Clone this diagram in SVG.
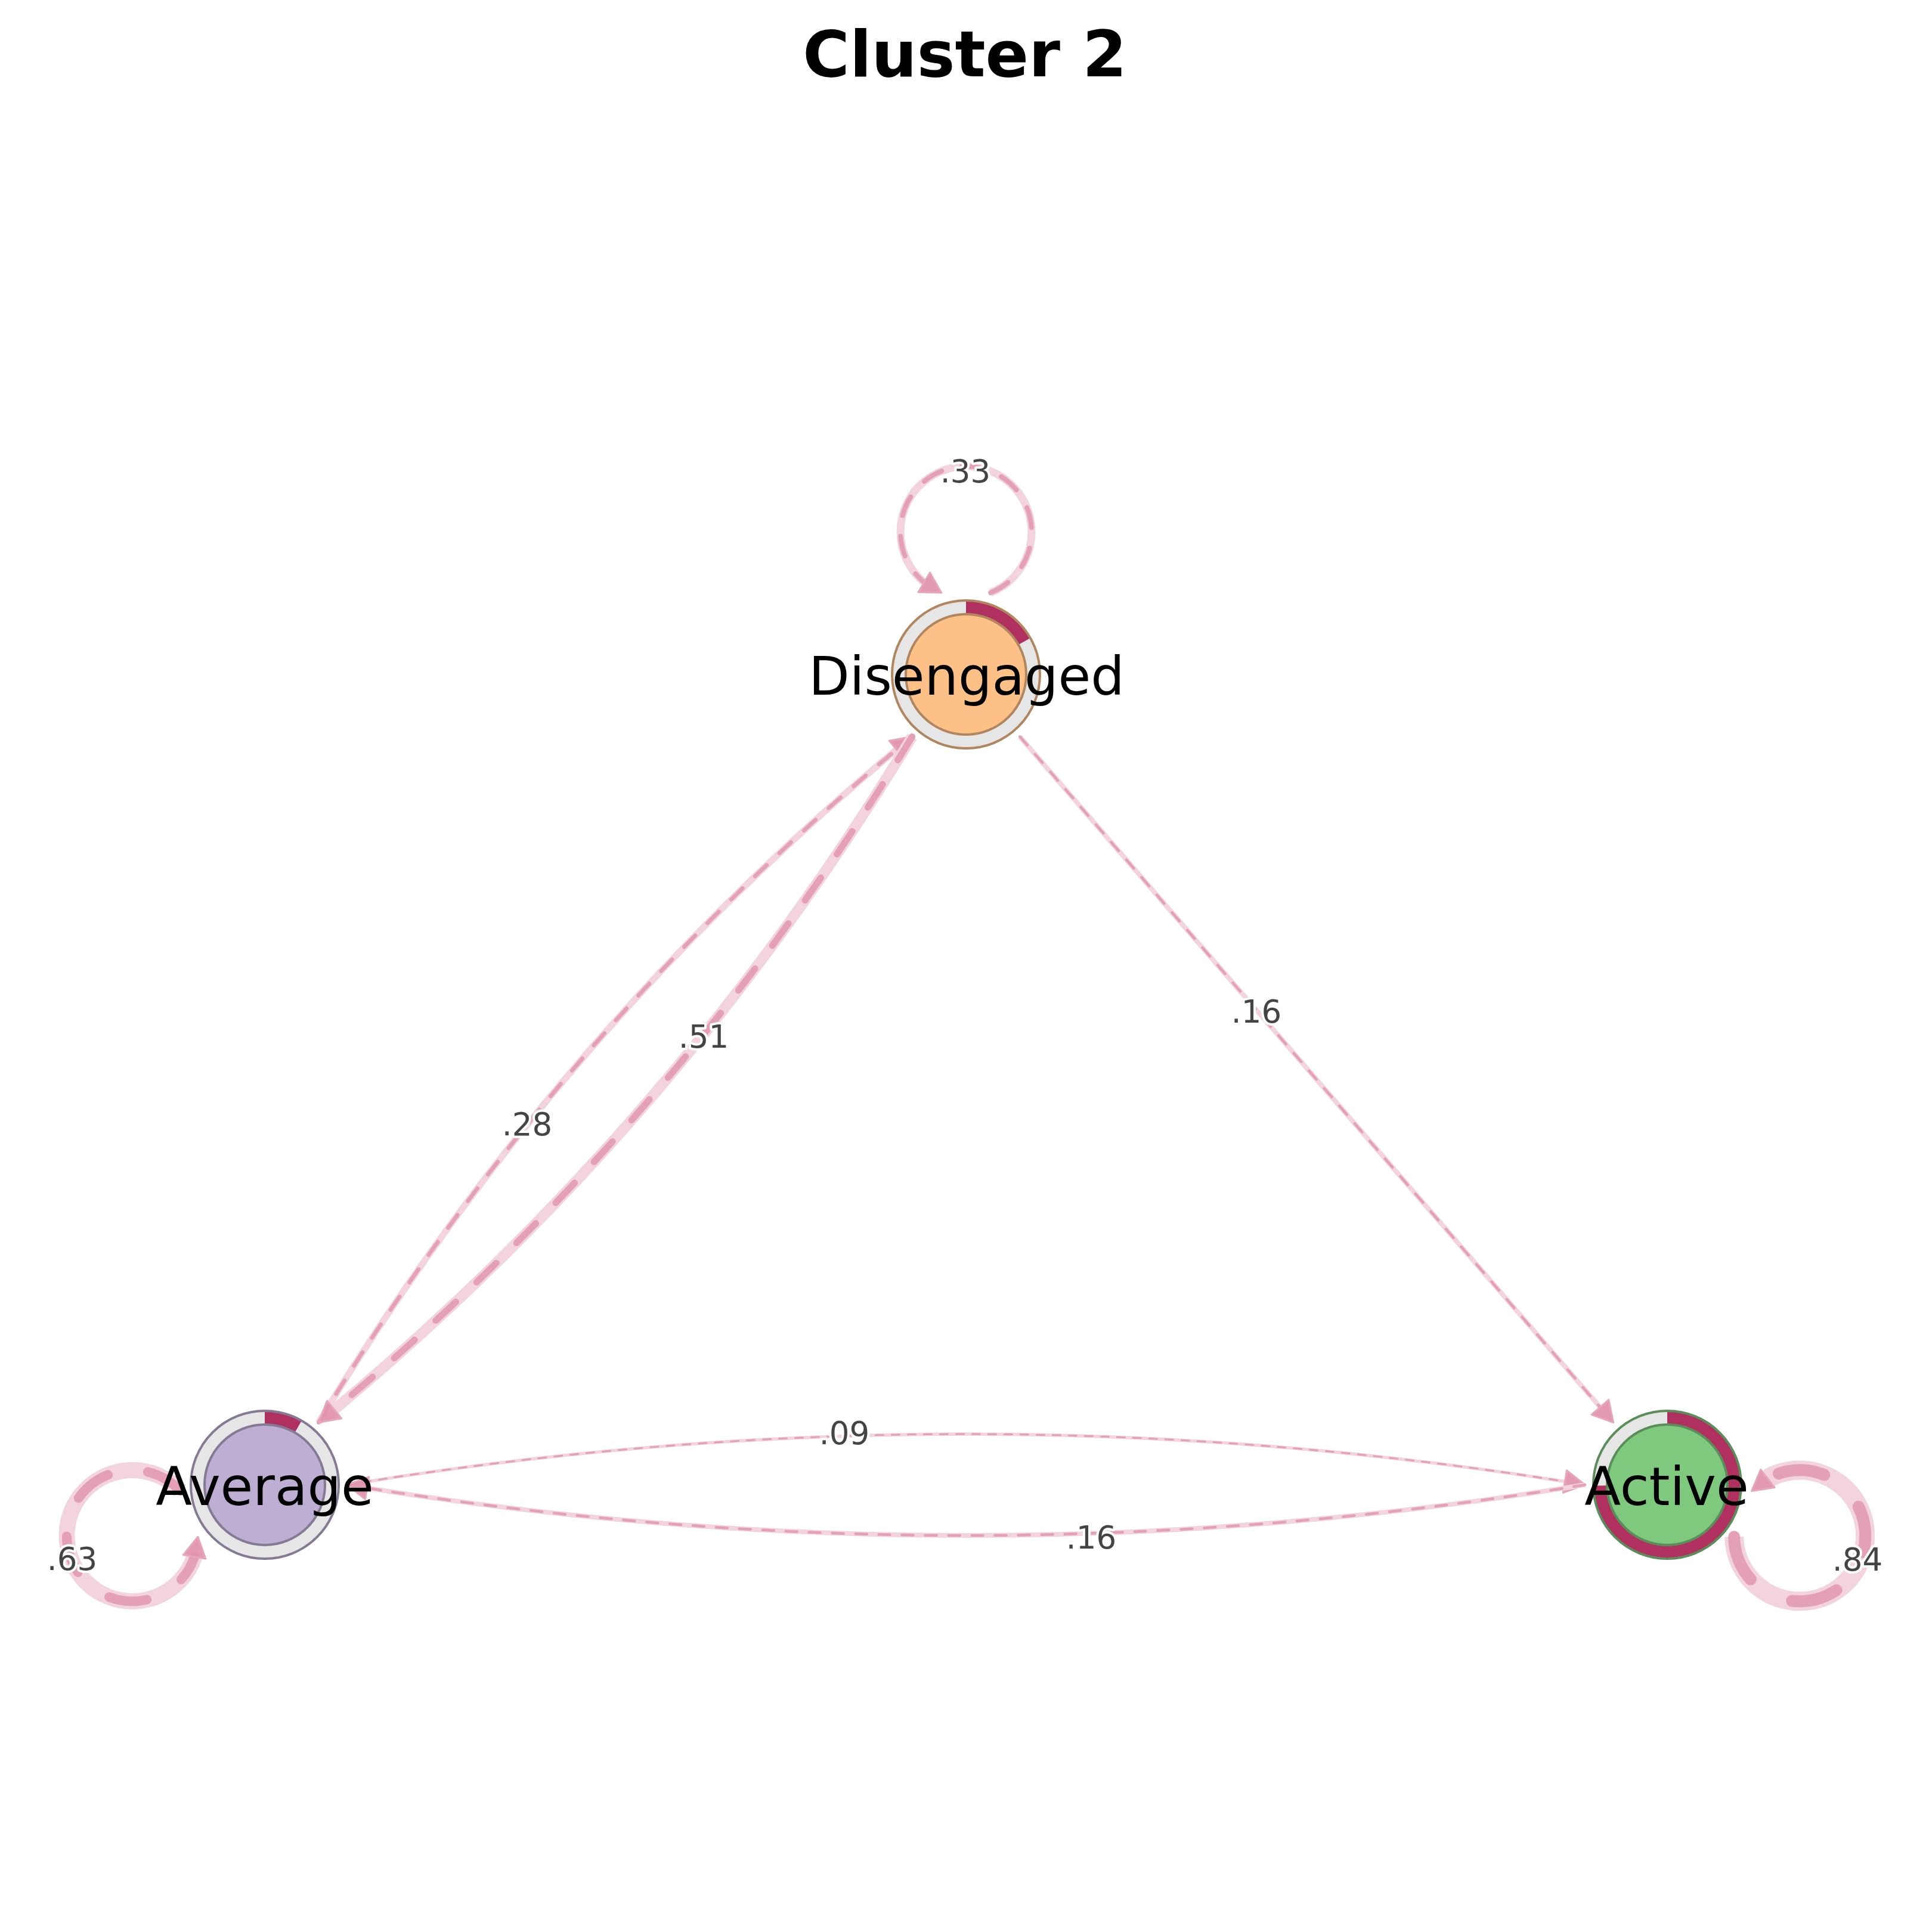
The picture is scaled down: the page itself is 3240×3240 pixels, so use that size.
<svg xmlns="http://www.w3.org/2000/svg" width="3240" height="3240" viewBox="0 0 3240 3240">
<style>
.band{fill:none;stroke:#f3d3df;stroke-linecap:butt}
.dash{fill:none;stroke:#e3a0b6;stroke-linecap:round}
.arrow{fill:#e294af;stroke:#e6a6bc;stroke-width:3;stroke-linejoin:round;fill-opacity:0.95}
.ring{fill:#e6e6e6}
.prog{fill:none;stroke:#b03060;stroke-width:20;stroke-linecap:butt}
.nlabel{font-family:"DejaVu Sans","Liberation Sans",sans-serif;font-size:89px;fill:#000;text-anchor:middle}
.elabel{font-family:"DejaVu Sans","Liberation Sans",sans-serif;font-size:53px;fill:#444444;text-anchor:middle;stroke:#ffffff;stroke-width:8;stroke-linejoin:round;paint-order:stroke}
.title{font-family:"DejaVu Sans","Liberation Sans",sans-serif;font-size:107px;font-weight:bold;fill:#000;text-anchor:middle}
</style>
<rect width="3240" height="3240" fill="#ffffff"/>
<text class="title" x="1618" y="128">Cluster 2</text>

<g id="edges">
  <!-- Disengaged self-loop .33 -->
  <g id="edge-dis-dis">
    <path class="band" stroke-width="13" d="M1661.2,994.0 A110,110 0 1 0 1549.7,976.6"/>
    <path class="dash" stroke-width="8" stroke-dasharray="34 35" d="M1661.2,994.0 A110,110 0 1 0 1549.7,976.6"/>
    <polygon class="arrow" points="1578.8,994.0 1540.0,992.9 1559.5,960.3"/>
  </g>
  <!-- Average self-loop .63 -->
  <g id="edge-avg-avg">
    <path class="band" stroke-width="27" d="M302.4,2500.4 A110,110 0 1 0 326.1,2610.7"/>
    <path class="dash" stroke-width="16" stroke-dasharray="64 68" d="M302.4,2500.4 A110,110 0 1 0 326.1,2610.7"/>
    <polygon class="arrow" points="331.9,2577.3 344.8,2614.0 307.4,2607.5"/>
  </g>
  <!-- Active self-loop .84 -->
  <g id="edge-act-act">
    <path class="band" stroke-width="32" d="M2908.1,2577.3 A110,110 0 1 0 2964.3,2479.5"/>
    <path class="dash" stroke-width="20" stroke-dasharray="78 80" d="M2908.1,2577.3 A110,110 0 1 0 2964.3,2479.5"/>
    <polygon class="arrow" points="2937.6,2500.4 2952.6,2464.5 2976.0,2494.5"/>
  </g>
  <!-- Average -> Disengaged .28 -->
  <g id="edge-avg-dis">
    <path class="band" stroke-width="11" d="M534.3,2385.6 Q924.9,1739.9 1503.5,1257.0"/>
    <path class="dash" stroke-width="6.5" stroke-dasharray="27 29" d="M534.3,2385.6 Q924.9,1739.9 1503.5,1257.0"/>
    <polygon class="arrow" points="1529.7,1235.4 1515.5,1271.7 1491.3,1242.3"/>
  </g>
  <!-- Disengaged -> Average .51 -->
  <g id="edge-dis-avg">
    <path class="band" stroke-width="18" d="M1529.7,1235.4 Q1139.1,1881.1 560.5,2364.0"/>
    <path class="dash" stroke-width="11" stroke-dasharray="46 48" d="M1529.7,1235.4 Q1139.1,1881.1 560.5,2364.0"/>
    <polygon class="arrow" points="534.3,2385.6 548.5,2349.3 572.7,2378.7"/>
  </g>
  <!-- Disengaged -> Active .16 -->
  <g id="edge-dis-act">
    <path class="band" stroke-width="8" d="M1710.3,1235.4 L2683.4,2359.9"/>
    <path class="dash" stroke-width="4.5" stroke-dasharray="19 20" d="M1710.3,1235.4 L2683.4,2359.9"/>
    <polygon class="arrow" points="2705.7,2385.6 2669.0,2372.3 2697.8,2347.5"/>
  </g>
  <!-- Average -> Active .09 -->
  <g id="edge-avg-act">
    <path class="band" stroke-width="5.5" d="M582,2490 Q1603.4,2322.7 2624.4,2484.5"/>
    <path class="dash" stroke-width="3.2" stroke-dasharray="13 14" d="M582,2490 Q1603.4,2322.7 2624.4,2484.5"/>
    <polygon class="arrow" points="2658,2490 2621.3,2503.3 2627.5,2465.8"/>
  </g>
  <!-- Active -> Average .16 -->
  <g id="edge-act-avg">
    <path class="band" stroke-width="8" d="M2658,2490 Q1636.6,2657.2 615.6,2495.5"/>
    <path class="dash" stroke-width="4.5" stroke-dasharray="19 20" d="M2658,2490 Q1636.6,2657.2 615.6,2495.5"/>
    <polygon class="arrow" points="582,2490 618.7,2476.8 612.5,2514.3"/>
  </g>
</g>

<g id="node-disengaged">
  <circle class="ring" cx="1620" cy="1131" r="124"/>
  <path class="prog" d="M1620,1018.5 A112.5,112.5 0 0 1 1717.9,1075.6"/>
  <circle cx="1620" cy="1131" r="124" fill="none" stroke="#b1865e" stroke-width="4"/>
  <circle cx="1620" cy="1131" r="101" fill="#fdc086" stroke="#b1865e" stroke-width="4"/>
</g>
<g id="node-average">
  <circle class="ring" cx="444" cy="2490" r="124"/>
  <path class="prog" d="M444,2377.5 A112.5,112.5 0 0 1 500.1,2392.5"/>
  <circle cx="444" cy="2490" r="124" fill="none" stroke="#857a94" stroke-width="4"/>
  <circle cx="444" cy="2490" r="101" fill="#beaed4" stroke="#857a94" stroke-width="4"/>
</g>
<g id="node-active">
  <circle class="ring" cx="2796" cy="2490" r="124"/>
  <path class="prog" d="M2796,2377.5 A112.5,112.5 0 1 1 2683.5,2491.4"/>
  <circle cx="2796" cy="2490" r="124" fill="none" stroke="#598d59" stroke-width="4"/>
  <circle cx="2796" cy="2490" r="101" fill="#7fc97f" stroke="#598d59" stroke-width="4"/>
</g>

<g id="node-labels">
  <text class="nlabel" x="1621" y="1165">Disengaged</text>
  <text class="nlabel" x="444" y="2524">Average</text>
  <text class="nlabel" x="2795" y="2524">Active</text>
</g>

<g id="edge-labels">
  <text class="elabel" x="1619" y="809">.33</text>
  <text class="elabel" x="121" y="2633">.63</text>
  <text class="elabel" x="3115" y="2634">.84</text>
  <text class="elabel" x="884" y="1904">.28</text>
  <text class="elabel" x="1180" y="1757">.51</text>
  <text class="elabel" x="2107" y="1715">.16</text>
  <text class="elabel" x="1416" y="2422">.09</text>
  <text class="elabel" x="1830" y="2597">.16</text>
</g>
</svg>
